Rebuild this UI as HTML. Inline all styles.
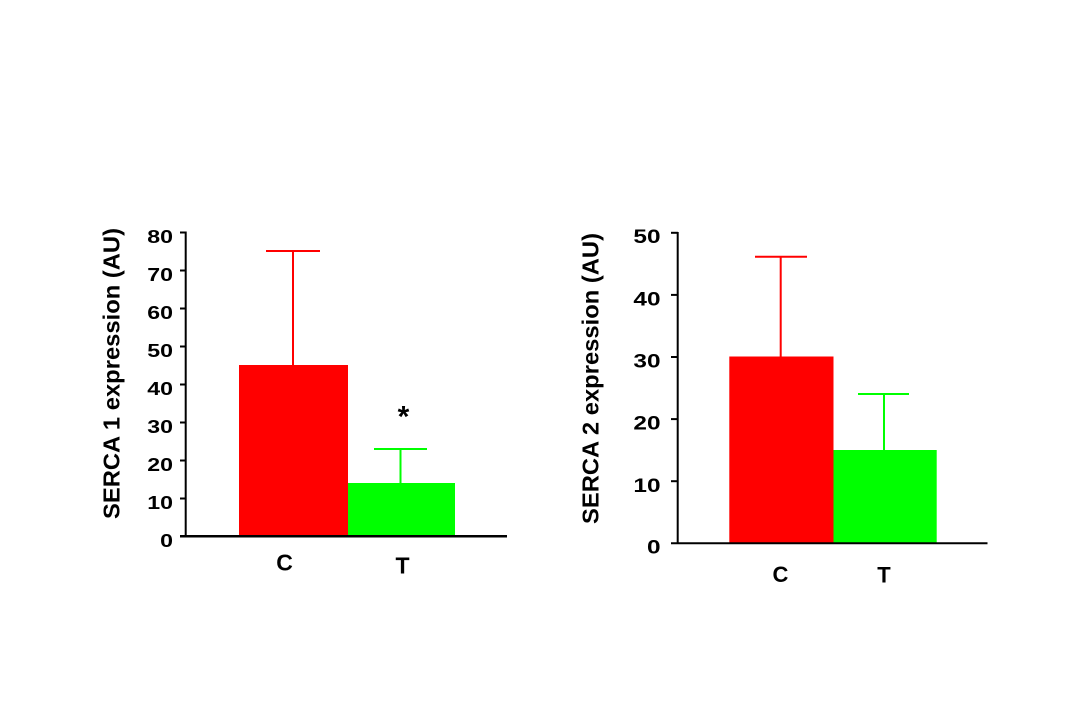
<!DOCTYPE html>
<html>
<head>
<meta charset="utf-8">
<style>
  html, body { margin: 0; padding: 0; background: #ffffff; }
  svg { display: block; }
  text { font-family: "Liberation Sans", Arial, sans-serif; font-weight: bold; fill: #000; }
</style>
</head>
<body>
<svg width="1079" height="719" viewBox="0 0 1079 719" xmlns="http://www.w3.org/2000/svg">
  <rect x="0" y="0" width="1079" height="719" fill="#ffffff"/>

  <!-- ================= Chart 1 ================= -->
  <rect x="239" y="365" width="109" height="171" fill="#ff0000"/>
  <rect x="348" y="483" width="107" height="53" fill="#00ff00"/>
  <line x1="293" y1="365" x2="293" y2="251" stroke="#ff0000" stroke-width="2"/>
  <line x1="266" y1="251" x2="320" y2="251" stroke="#ff0000" stroke-width="2"/>
  <line x1="400.5" y1="483" x2="400.5" y2="449" stroke="#00ff00" stroke-width="2"/>
  <line x1="374" y1="449" x2="427" y2="449" stroke="#00ff00" stroke-width="2"/>
  <line x1="185.7" y1="231.5" x2="185.7" y2="537" stroke="#000" stroke-width="2"/>
  <line x1="180" y1="536.3" x2="507" y2="536.3" stroke="#000" stroke-width="2.5"/>
  <g stroke="#000" stroke-width="2">
    <line x1="180" y1="232.5" x2="186" y2="232.5"/>
    <line x1="180" y1="270.5" x2="186" y2="270.5"/>
    <line x1="180" y1="308.5" x2="186" y2="308.5"/>
    <line x1="180" y1="346.5" x2="186" y2="346.5"/>
    <line x1="180" y1="384.5" x2="186" y2="384.5"/>
    <line x1="180" y1="422.5" x2="186" y2="422.5"/>
    <line x1="180" y1="460.5" x2="186" y2="460.5"/>
    <line x1="180" y1="498.5" x2="186" y2="498.5"/>
  </g>
  <g font-size="18.5" text-anchor="end">
    <text transform="translate(173,243) scale(1.25,1)">80</text>
    <text transform="translate(173,281) scale(1.25,1)">70</text>
    <text transform="translate(173,319) scale(1.25,1)">60</text>
    <text transform="translate(173,357) scale(1.25,1)">50</text>
    <text transform="translate(173,395) scale(1.25,1)">40</text>
    <text transform="translate(173,433) scale(1.25,1)">30</text>
    <text transform="translate(173,471) scale(1.25,1)">20</text>
    <text transform="translate(173,509) scale(1.25,1)">10</text>
    <text transform="translate(173,547) scale(1.25,1)">0</text>
  </g>
  <text transform="translate(119.5,373.5) rotate(-90)" font-size="23" text-anchor="middle" textLength="291" lengthAdjust="spacingAndGlyphs">SERCA 1 expression (AU)</text>
  <text x="284.5" y="570.5" font-size="23" text-anchor="middle">C</text>
  <text x="402.5" y="573.3" font-size="23" text-anchor="middle">T</text>
  <text x="403.5" y="426.5" font-size="30" text-anchor="middle">*</text>

  <!-- ================= Chart 2 ================= -->
  <rect x="729.3" y="356.5" width="104.2" height="186.5" fill="#ff0000"/>
  <rect x="833.5" y="450" width="103.2" height="93" fill="#00ff00"/>
  <line x1="780.7" y1="356.5" x2="780.7" y2="256.7" stroke="#ff0000" stroke-width="2"/>
  <line x1="755" y1="256.7" x2="807" y2="256.7" stroke="#ff0000" stroke-width="2"/>
  <line x1="884" y1="450" x2="884" y2="394" stroke="#00ff00" stroke-width="2"/>
  <line x1="858" y1="394" x2="909" y2="394" stroke="#00ff00" stroke-width="2"/>
  <line x1="677.7" y1="232" x2="677.7" y2="544" stroke="#000" stroke-width="2"/>
  <line x1="671" y1="543.3" x2="987.5" y2="543.3" stroke="#000" stroke-width="2"/>
  <g stroke="#000" stroke-width="2">
    <line x1="671" y1="232.8" x2="678" y2="232.8"/>
    <line x1="671" y1="294.9" x2="678" y2="294.9"/>
    <line x1="671" y1="357" x2="678" y2="357"/>
    <line x1="671" y1="419.1" x2="678" y2="419.1"/>
    <line x1="671" y1="481.2" x2="678" y2="481.2"/>
  </g>
  <g font-size="19.5" text-anchor="end">
    <text transform="translate(660.5,243) scale(1.25,1)">50</text>
    <text transform="translate(660.5,305.3) scale(1.25,1)">40</text>
    <text transform="translate(660.5,367.5) scale(1.25,1)">30</text>
    <text transform="translate(660.5,429.7) scale(1.25,1)">20</text>
    <text transform="translate(660.5,491.9) scale(1.25,1)">10</text>
    <text transform="translate(660.5,553.5) scale(1.25,1)">0</text>
  </g>
  <text transform="translate(598.5,378.5) rotate(-90)" font-size="23" text-anchor="middle" textLength="291" lengthAdjust="spacingAndGlyphs">SERCA 2 expression (AU)</text>
  <text x="780.5" y="582" font-size="22" text-anchor="middle">C</text>
  <text x="884" y="582.5" font-size="22" text-anchor="middle">T</text>
</svg>
</body>
</html>
